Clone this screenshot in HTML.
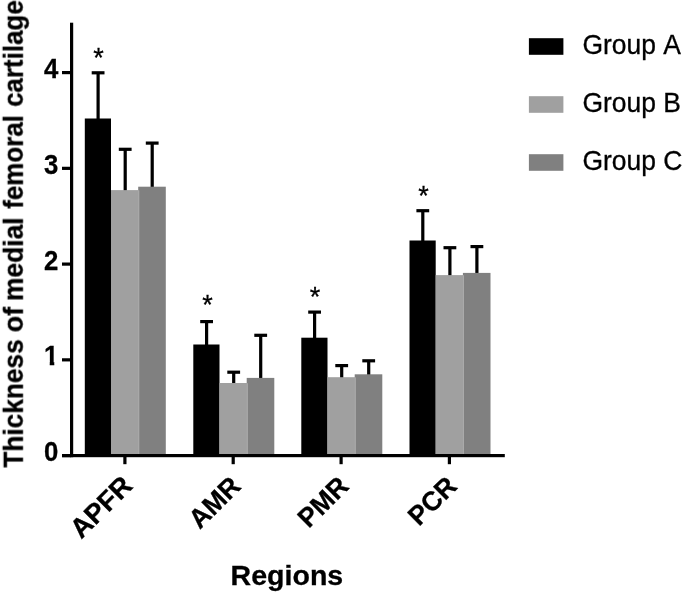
<!DOCTYPE html><html><head><meta charset="utf-8"><title>Thickness of medial femoral cartilage</title>
<style>html,body{margin:0;padding:0;background:#fff}svg{display:block}text{font-family:"Liberation Sans",Arial,sans-serif;fill:#000;stroke:#000;stroke-width:.3px}.b{font-weight:bold}</style></head><body>
<svg width="685" height="594" viewBox="0 0 685 594">
<rect width="685" height="594" fill="#fff"/>
<defs><filter id="soft" x="0" y="0" width="100%" height="100%" filterUnits="userSpaceOnUse" color-interpolation-filters="sRGB"><feGaussianBlur stdDeviation="0.55"/></filter></defs>
<g filter="url(#soft)">
<rect width="685" height="594" fill="#fff"/>
<rect x="96.50" y="72.80" width="3.2" height="46.70" fill="#000"/>
<rect x="91.70" y="71.20" width="12.8" height="3.2" fill="#000"/>
<rect x="84.80" y="118.50" width="26.20" height="337.10" fill="#000"/>
<rect x="150.60" y="143.10" width="3.2" height="44.60" fill="#000"/>
<rect x="145.80" y="141.50" width="12.8" height="3.2" fill="#000"/>
<rect x="138.20" y="186.70" width="27.60" height="268.90" fill="#808080"/>
<rect x="123.60" y="149.30" width="3.2" height="41.80" fill="#000"/>
<rect x="118.80" y="147.70" width="12.8" height="3.2" fill="#000"/>
<rect x="111.00" y="190.10" width="28.20" height="265.50" fill="#a0a0a0"/>
<rect x="138.30" y="190.60" width="0.9" height="263.50" fill="#acacac"/>
<text x="98.50" y="66.50" font-size="27" text-anchor="middle">*</text>
<rect x="123.30" y="455.60" width="3.2" height="8.60" fill="#000"/>
<text class="b" font-size="27.3" text-anchor="end" transform="translate(133.90,487.20) rotate(-45) scale(1.0,1)">APFR</text>
<rect x="205.00" y="321.60" width="3.2" height="23.90" fill="#000"/>
<rect x="200.20" y="320.00" width="12.8" height="3.2" fill="#000"/>
<rect x="193.30" y="344.50" width="26.20" height="111.10" fill="#000"/>
<rect x="259.10" y="335.30" width="3.2" height="43.60" fill="#000"/>
<rect x="254.30" y="333.70" width="12.8" height="3.2" fill="#000"/>
<rect x="246.70" y="377.90" width="27.60" height="77.70" fill="#808080"/>
<rect x="232.10" y="372.20" width="3.2" height="11.80" fill="#000"/>
<rect x="227.30" y="370.60" width="12.8" height="3.2" fill="#000"/>
<rect x="219.50" y="383.00" width="28.20" height="72.60" fill="#a0a0a0"/>
<rect x="246.80" y="383.50" width="0.9" height="70.60" fill="#acacac"/>
<text x="207.40" y="314.00" font-size="27" text-anchor="middle">*</text>
<rect x="231.60" y="455.60" width="3.2" height="8.60" fill="#000"/>
<text class="b" font-size="27.0" text-anchor="end" transform="translate(242.20,487.70) rotate(-45) scale(0.975,1)">AMR</text>
<rect x="313.00" y="312.10" width="3.2" height="26.60" fill="#000"/>
<rect x="308.20" y="310.50" width="12.8" height="3.2" fill="#000"/>
<rect x="301.30" y="337.70" width="26.20" height="117.90" fill="#000"/>
<rect x="367.10" y="360.80" width="3.2" height="14.50" fill="#000"/>
<rect x="362.30" y="359.20" width="12.8" height="3.2" fill="#000"/>
<rect x="354.70" y="374.30" width="27.60" height="81.30" fill="#808080"/>
<rect x="340.10" y="365.60" width="3.2" height="12.60" fill="#000"/>
<rect x="335.30" y="364.00" width="12.8" height="3.2" fill="#000"/>
<rect x="327.50" y="377.20" width="28.20" height="78.40" fill="#a0a0a0"/>
<rect x="354.80" y="377.70" width="0.9" height="76.40" fill="#acacac"/>
<text x="315.00" y="305.60" font-size="27" text-anchor="middle">*</text>
<rect x="339.50" y="455.60" width="3.2" height="8.60" fill="#000"/>
<text class="b" font-size="27.0" text-anchor="end" transform="translate(350.10,487.70) rotate(-45) scale(0.975,1)">PMR</text>
<rect x="421.20" y="210.70" width="3.2" height="30.80" fill="#000"/>
<rect x="416.40" y="209.10" width="12.8" height="3.2" fill="#000"/>
<rect x="409.50" y="240.50" width="26.20" height="215.10" fill="#000"/>
<rect x="475.30" y="246.60" width="3.2" height="27.30" fill="#000"/>
<rect x="470.50" y="245.00" width="12.8" height="3.2" fill="#000"/>
<rect x="462.90" y="272.90" width="27.60" height="182.70" fill="#808080"/>
<rect x="448.30" y="247.70" width="3.2" height="28.40" fill="#000"/>
<rect x="443.50" y="246.10" width="12.8" height="3.2" fill="#000"/>
<rect x="435.70" y="275.10" width="28.20" height="180.50" fill="#a0a0a0"/>
<rect x="463.00" y="275.60" width="0.9" height="178.50" fill="#acacac"/>
<text x="423.60" y="205.30" font-size="27" text-anchor="middle">*</text>
<rect x="447.80" y="455.60" width="3.2" height="8.60" fill="#000"/>
<text class="b" font-size="27.0" text-anchor="end" transform="translate(458.40,487.70) rotate(-45) scale(0.975,1)">PCR</text>
<rect x="70.00" y="22.7" width="3.2" height="434.50" fill="#000"/>
<rect x="62" y="454.00" width="442.80" height="3.2" fill="#000"/>
<rect x="62" y="454.00" width="9" height="3.2" fill="#000"/>
<text class="b" font-size="28" text-anchor="end" transform="translate(58.3,461.10) scale(0.92,1)">0</text>
<rect x="62" y="358.25" width="9" height="3.2" fill="#000"/>
<clipPath id="c1"><rect x="40" y="339.85" width="20" height="22.00"/><rect x="49.75" y="361.35" width="4.5" height="6"/></clipPath>
<g clip-path="url(#c1)"><text class="b" font-size="28" text-anchor="end" transform="translate(58.3,365.45) scale(0.92,1)">1</text></g>
<rect x="62" y="262.50" width="9" height="3.2" fill="#000"/>
<text class="b" font-size="28" text-anchor="end" transform="translate(58.3,269.60) scale(0.92,1)">2</text>
<rect x="62" y="166.75" width="9" height="3.2" fill="#000"/>
<text class="b" font-size="28" text-anchor="end" transform="translate(58.3,173.85) scale(0.92,1)">3</text>
<rect x="62" y="71.00" width="9" height="3.2" fill="#000"/>
<text class="b" font-size="28" text-anchor="end" transform="translate(58.3,78.10) scale(0.92,1)">4</text>
<text class="b" font-size="27" transform="translate(22.8,467.6) rotate(-90)"><tspan x="0.00" textLength="128.23" lengthAdjust="spacingAndGlyphs">Thickness</tspan> <tspan x="135.20" textLength="25.48" lengthAdjust="spacingAndGlyphs">of</tspan> <tspan x="166.40" textLength="83.82" lengthAdjust="spacingAndGlyphs">medial</tspan> <tspan x="258.80" textLength="93.73" lengthAdjust="spacingAndGlyphs">femoral</tspan> <tspan x="360.70" textLength="106.61" lengthAdjust="spacingAndGlyphs">cartilage</tspan></text>
<text class="b" font-size="28.5" x="230.6" y="584.8" textLength="112.6" lengthAdjust="spacingAndGlyphs">Regions</text>
<rect x="528.9" y="38.20" width="34.5" height="16.6" fill="#000"/>
<text font-size="27.5" style="font-kerning:none" transform="translate(582.4,54.30) scale(0.962,1)">Group A</text>
<rect x="528.9" y="96.20" width="34.5" height="16.6" fill="#a0a0a0"/>
<text font-size="27.5" style="font-kerning:none" transform="translate(582.4,112.30) scale(0.962,1)">Group B</text>
<rect x="528.9" y="154.20" width="34.5" height="16.6" fill="#808080"/>
<text font-size="27.5" style="font-kerning:none" transform="translate(582.4,170.30) scale(0.962,1)">Group C</text>
</g>
</svg></body></html>
